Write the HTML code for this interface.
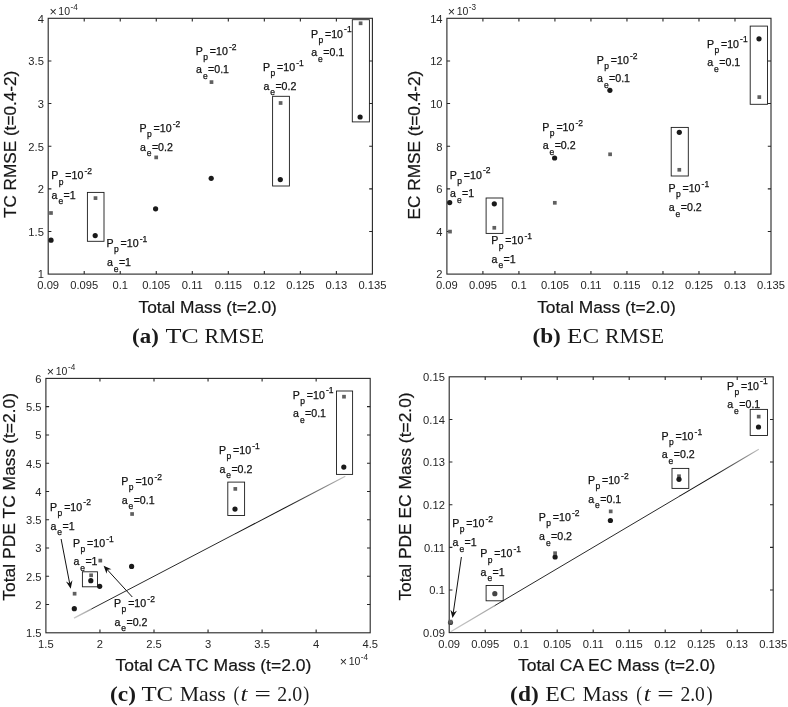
<!DOCTYPE html>
<html lang="en"><head><meta charset="utf-8"><title>Figure</title>
<style>html,body{margin:0;padding:0;background:#fff}body{width:788px;height:707px;overflow:hidden}svg{display:block}</style>
</head><body>
<svg width="788" height="707" viewBox="0 0 788 707" font-family='"Liberation Sans", sans-serif'>
<rect width="788" height="707" fill="#fff"/>
<rect x="48.2" y="18.3" width="324.2" height="255.8" fill="none" stroke="#262626" stroke-width="1.1"/>
<path d="M84.22 274.1v-3.2M84.22 18.3v3.2M120.24 274.1v-3.2M120.24 18.3v3.2M156.27 274.1v-3.2M156.27 18.3v3.2M192.29 274.1v-3.2M192.29 18.3v3.2M228.31 274.1v-3.2M228.31 18.3v3.2M264.33 274.1v-3.2M264.33 18.3v3.2M300.36 274.1v-3.2M300.36 18.3v3.2M336.38 274.1v-3.2M336.38 18.3v3.2M48.2 231.47h3.2M372.4 231.47h-3.2M48.2 188.83h3.2M372.4 188.83h-3.2M48.2 146.2h3.2M372.4 146.2h-3.2M48.2 103.57h3.2M372.4 103.57h-3.2M48.2 60.93h3.2M372.4 60.93h-3.2" stroke="#262626" stroke-width="1.1" fill="none"/>
<text x="48.2" y="289.3" font-size="11.2" text-anchor="middle" fill="#262626">0.09</text>
<text x="84.22" y="289.3" font-size="11.2" text-anchor="middle" fill="#262626">0.095</text>
<text x="120.24" y="289.3" font-size="11.2" text-anchor="middle" fill="#262626">0.1</text>
<text x="156.27" y="289.3" font-size="11.2" text-anchor="middle" fill="#262626">0.105</text>
<text x="192.29" y="289.3" font-size="11.2" text-anchor="middle" fill="#262626">0.11</text>
<text x="228.31" y="289.3" font-size="11.2" text-anchor="middle" fill="#262626">0.115</text>
<text x="264.33" y="289.3" font-size="11.2" text-anchor="middle" fill="#262626">0.12</text>
<text x="300.36" y="289.3" font-size="11.2" text-anchor="middle" fill="#262626">0.125</text>
<text x="336.38" y="289.3" font-size="11.2" text-anchor="middle" fill="#262626">0.13</text>
<text x="372.4" y="289.3" font-size="11.2" text-anchor="middle" fill="#262626">0.135</text>
<text x="43.9" y="278.4" font-size="11.2" text-anchor="end" fill="#262626">1</text>
<text x="43.9" y="235.77" font-size="11.2" text-anchor="end" fill="#262626">1.5</text>
<text x="43.9" y="193.13" font-size="11.2" text-anchor="end" fill="#262626">2</text>
<text x="43.9" y="150.5" font-size="11.2" text-anchor="end" fill="#262626">2.5</text>
<text x="43.9" y="107.87" font-size="11.2" text-anchor="end" fill="#262626">3</text>
<text x="43.9" y="65.23" font-size="11.2" text-anchor="end" fill="#262626">3.5</text>
<text x="43.9" y="22.6" font-size="11.2" text-anchor="end" fill="#262626">4</text>
<text x="50.4" y="14.4" font-size="10.5" fill="#262626"><tspan font-size="12.6" dx="-1" dy="1.1">×</tspan><tspan dx="1.6" dy="-0.8">10</tspan><tspan dx="0.5" dy="-5.0" font-size="8.2">-4</tspan></text>
<g font-size="16.8" fill="#161616" stroke="#161616" stroke-width="0.2">
<text x="138.5" y="313" textLength="138.4" lengthAdjust="spacingAndGlyphs">Total Mass (t=2.0)</text>
</g>
<g font-size="16.8" fill="#161616" stroke="#161616" stroke-width="0.2">
<g transform="translate(16.2 218) rotate(-90)"><text x="0" y="0" textLength="147.2" lengthAdjust="spacingAndGlyphs">TC RMSE (t=0.4-2)</text></g>
</g>
<g font-family='"Liberation Serif", serif' font-size="20.4" fill="#1a1a1a">
<text x="132.1" y="343.3" textLength="26.7" lengthAdjust="spacingAndGlyphs" font-weight="bold">(a)</text>
<text x="165.4" y="343.3" textLength="33.4" lengthAdjust="spacingAndGlyphs">TC</text>
<text x="204.4" y="343.3" textLength="59.7" lengthAdjust="spacingAndGlyphs">RMSE</text>
</g>
<rect x="49.15" y="211.15" width="3.7" height="3.7" fill="#606060"/>
<circle cx="51" cy="240.2" r="2.6" fill="#1a1a1a"/>
<rect x="87.4" y="192.4" width="16.6" height="48.9" fill="none" stroke="#1a1a1a" stroke-width="0.9"/>
<rect x="93.65" y="196.25" width="3.7" height="3.7" fill="#606060"/>
<circle cx="95.2" cy="235.6" r="2.6" fill="#1a1a1a"/>
<rect x="154.35" y="155.55" width="3.7" height="3.7" fill="#606060"/>
<circle cx="155.6" cy="208.8" r="2.6" fill="#1a1a1a"/>
<rect x="209.65" y="80.25" width="3.7" height="3.7" fill="#606060"/>
<circle cx="211.2" cy="178.3" r="2.6" fill="#1a1a1a"/>
<rect x="272.6" y="96.3" width="16.8" height="89.7" fill="none" stroke="#1a1a1a" stroke-width="0.9"/>
<rect x="278.75" y="101.15" width="3.7" height="3.7" fill="#606060"/>
<circle cx="280.3" cy="179.6" r="2.6" fill="#1a1a1a"/>
<rect x="352.3" y="19.7" width="17.1" height="102.2" fill="none" stroke="#1a1a1a" stroke-width="0.9"/>
<rect x="358.75" y="21.45" width="3.7" height="3.7" fill="#606060"/>
<circle cx="360.1" cy="117" r="2.6" fill="#1a1a1a"/>
<text font-size="10.6" fill="#111" stroke="#111" stroke-width="0.25"><tspan x="51.2" y="179.3">P</tspan><tspan x="58.7" y="184.5" font-size="8.5">p</tspan><tspan x="65.3" y="179.3">=10</tspan><tspan x="84.4" y="174" font-size="8.5">-2</tspan><tspan x="51.6" y="198.5">a</tspan><tspan x="58.4" y="204" font-size="8.5">e</tspan><tspan x="63.6" y="198.5">=1</tspan></text>
<text font-size="10.6" fill="#111" stroke="#111" stroke-width="0.25"><tspan x="106.5" y="246.9">P</tspan><tspan x="114" y="252.1" font-size="8.5">p</tspan><tspan x="120.6" y="246.9">=10</tspan><tspan x="139.7" y="241.6" font-size="8.5">-1</tspan><tspan x="106.9" y="266">a</tspan><tspan x="113.7" y="271.5" font-size="8.5">e</tspan><tspan x="118.9" y="266">=1</tspan></text>
<text font-size="10.6" fill="#111" stroke="#111" stroke-width="0.25"><tspan x="139.5" y="132.2">P</tspan><tspan x="147" y="137.4" font-size="8.5">p</tspan><tspan x="153.6" y="132.2">=10</tspan><tspan x="172.7" y="126.9" font-size="8.5">-2</tspan><tspan x="139.9" y="150.9">a</tspan><tspan x="146.7" y="156.4" font-size="8.5">e</tspan><tspan x="151.9" y="150.9">=0.2</tspan></text>
<text font-size="10.6" fill="#111" stroke="#111" stroke-width="0.25"><tspan x="195.7" y="54.9">P</tspan><tspan x="203.2" y="60.1" font-size="8.5">p</tspan><tspan x="209.8" y="54.9">=10</tspan><tspan x="228.9" y="49.6" font-size="8.5">-2</tspan><tspan x="196.1" y="73.3">a</tspan><tspan x="202.9" y="78.8" font-size="8.5">e</tspan><tspan x="208.1" y="73.3">=0.1</tspan></text>
<text font-size="10.6" fill="#111" stroke="#111" stroke-width="0.25"><tspan x="263" y="71.2">P</tspan><tspan x="270.5" y="76.4" font-size="8.5">p</tspan><tspan x="277.1" y="71.2">=10</tspan><tspan x="296.2" y="65.9" font-size="8.5">-1</tspan><tspan x="263.4" y="89.8">a</tspan><tspan x="270.2" y="95.3" font-size="8.5">e</tspan><tspan x="275.4" y="89.8">=0.2</tspan></text>
<text font-size="10.6" fill="#111" stroke="#111" stroke-width="0.25"><tspan x="310.9" y="37.5">P</tspan><tspan x="318.4" y="42.7" font-size="8.5">p</tspan><tspan x="325" y="37.5">=10</tspan><tspan x="344.1" y="32.2" font-size="8.5">-1</tspan><tspan x="311.3" y="56.2">a</tspan><tspan x="318.1" y="61.7" font-size="8.5">e</tspan><tspan x="323.3" y="56.2">=0.1</tspan></text>
<rect x="446.9" y="18.3" width="324.1" height="255.8" fill="none" stroke="#262626" stroke-width="1.1"/>
<path d="M482.91 274.1v-3.2M482.91 18.3v3.2M518.92 274.1v-3.2M518.92 18.3v3.2M554.93 274.1v-3.2M554.93 18.3v3.2M590.94 274.1v-3.2M590.94 18.3v3.2M626.96 274.1v-3.2M626.96 18.3v3.2M662.97 274.1v-3.2M662.97 18.3v3.2M698.98 274.1v-3.2M698.98 18.3v3.2M734.99 274.1v-3.2M734.99 18.3v3.2M446.9 231.47h3.2M771 231.47h-3.2M446.9 188.83h3.2M771 188.83h-3.2M446.9 146.2h3.2M771 146.2h-3.2M446.9 103.57h3.2M771 103.57h-3.2M446.9 60.93h3.2M771 60.93h-3.2" stroke="#262626" stroke-width="1.1" fill="none"/>
<text x="446.9" y="289.3" font-size="11.2" text-anchor="middle" fill="#262626">0.09</text>
<text x="482.91" y="289.3" font-size="11.2" text-anchor="middle" fill="#262626">0.095</text>
<text x="518.92" y="289.3" font-size="11.2" text-anchor="middle" fill="#262626">0.1</text>
<text x="554.93" y="289.3" font-size="11.2" text-anchor="middle" fill="#262626">0.105</text>
<text x="590.94" y="289.3" font-size="11.2" text-anchor="middle" fill="#262626">0.11</text>
<text x="626.96" y="289.3" font-size="11.2" text-anchor="middle" fill="#262626">0.115</text>
<text x="662.97" y="289.3" font-size="11.2" text-anchor="middle" fill="#262626">0.12</text>
<text x="698.98" y="289.3" font-size="11.2" text-anchor="middle" fill="#262626">0.125</text>
<text x="734.99" y="289.3" font-size="11.2" text-anchor="middle" fill="#262626">0.13</text>
<text x="771" y="289.3" font-size="11.2" text-anchor="middle" fill="#262626">0.135</text>
<text x="442.6" y="278.4" font-size="11.2" text-anchor="end" fill="#262626">2</text>
<text x="442.6" y="235.77" font-size="11.2" text-anchor="end" fill="#262626">4</text>
<text x="442.6" y="193.13" font-size="11.2" text-anchor="end" fill="#262626">6</text>
<text x="442.6" y="150.5" font-size="11.2" text-anchor="end" fill="#262626">8</text>
<text x="442.6" y="107.87" font-size="11.2" text-anchor="end" fill="#262626">10</text>
<text x="442.6" y="65.23" font-size="11.2" text-anchor="end" fill="#262626">12</text>
<text x="442.6" y="22.6" font-size="11.2" text-anchor="end" fill="#262626">14</text>
<text x="448.7" y="14.4" font-size="10.5" fill="#262626"><tspan font-size="12.6" dx="-1" dy="1.1">×</tspan><tspan dx="1.6" dy="-0.8">10</tspan><tspan dx="0.5" dy="-5.0" font-size="8.2">-3</tspan></text>
<g font-size="16.8" fill="#161616" stroke="#161616" stroke-width="0.2">
<text x="537.2" y="313" textLength="138.5" lengthAdjust="spacingAndGlyphs">Total Mass (t=2.0)</text>
</g>
<g font-size="16.8" fill="#161616" stroke="#161616" stroke-width="0.2">
<g transform="translate(420.1 219.4) rotate(-90)"><text x="0" y="0" textLength="148.6" lengthAdjust="spacingAndGlyphs">EC RMSE (t=0.4-2)</text></g>
</g>
<g font-family='"Liberation Serif", serif' font-size="20.4" fill="#1a1a1a">
<text x="532.4" y="343.3" textLength="28.5" lengthAdjust="spacingAndGlyphs" font-weight="bold">(b)</text>
<text x="567.1" y="343.3" textLength="32" lengthAdjust="spacingAndGlyphs">EC</text>
<text x="605" y="343.3" textLength="59.1" lengthAdjust="spacingAndGlyphs">RMSE</text>
</g>
<circle cx="449.7" cy="202.6" r="2.6" fill="#1a1a1a"/>
<rect x="448.15" y="229.75" width="3.7" height="3.7" fill="#606060"/>
<rect x="486.1" y="198" width="16.8" height="35.4" fill="none" stroke="#1a1a1a" stroke-width="0.9"/>
<circle cx="494.3" cy="203.8" r="2.6" fill="#1a1a1a"/>
<rect x="492.45" y="225.95" width="3.7" height="3.7" fill="#606060"/>
<circle cx="554.6" cy="158" r="2.6" fill="#1a1a1a"/>
<rect x="552.95" y="200.95" width="3.7" height="3.7" fill="#606060"/>
<circle cx="609.9" cy="90.3" r="2.6" fill="#1a1a1a"/>
<rect x="608.25" y="152.45" width="3.7" height="3.7" fill="#606060"/>
<rect x="671.2" y="127.4" width="17.1" height="48.6" fill="none" stroke="#1a1a1a" stroke-width="0.9"/>
<circle cx="679.3" cy="132.3" r="2.6" fill="#1a1a1a"/>
<rect x="677.45" y="167.95" width="3.7" height="3.7" fill="#606060"/>
<rect x="750.2" y="26.1" width="17.3" height="78.2" fill="none" stroke="#1a1a1a" stroke-width="0.9"/>
<circle cx="759" cy="38.8" r="2.6" fill="#1a1a1a"/>
<rect x="757.45" y="95.25" width="3.7" height="3.7" fill="#606060"/>
<text font-size="10.6" fill="#111" stroke="#111" stroke-width="0.25"><tspan x="449.7" y="178.6">P</tspan><tspan x="457.2" y="183.8" font-size="8.5">p</tspan><tspan x="463.8" y="178.6">=10</tspan><tspan x="482.9" y="173.3" font-size="8.5">-2</tspan><tspan x="450.1" y="197.2">a</tspan><tspan x="456.9" y="202.7" font-size="8.5">e</tspan><tspan x="462.1" y="197.2">=1</tspan></text>
<text font-size="10.6" fill="#111" stroke="#111" stroke-width="0.25"><tspan x="491.2" y="243.8">P</tspan><tspan x="498.7" y="249" font-size="8.5">p</tspan><tspan x="505.3" y="243.8">=10</tspan><tspan x="524.4" y="238.5" font-size="8.5">-1</tspan><tspan x="491.6" y="262.6">a</tspan><tspan x="498.4" y="268.1" font-size="8.5">e</tspan><tspan x="503.6" y="262.6">=1</tspan></text>
<text font-size="10.6" fill="#111" stroke="#111" stroke-width="0.25"><tspan x="542.3" y="130.8">P</tspan><tspan x="549.8" y="136" font-size="8.5">p</tspan><tspan x="556.4" y="130.8">=10</tspan><tspan x="575.5" y="125.5" font-size="8.5">-2</tspan><tspan x="542.7" y="149.4">a</tspan><tspan x="549.5" y="154.9" font-size="8.5">e</tspan><tspan x="554.7" y="149.4">=0.2</tspan></text>
<text font-size="10.6" fill="#111" stroke="#111" stroke-width="0.25"><tspan x="596.7" y="63.9">P</tspan><tspan x="604.2" y="69.1" font-size="8.5">p</tspan><tspan x="610.8" y="63.9">=10</tspan><tspan x="629.9" y="58.6" font-size="8.5">-2</tspan><tspan x="597.1" y="82">a</tspan><tspan x="603.9" y="87.5" font-size="8.5">e</tspan><tspan x="609.1" y="82">=0.1</tspan></text>
<text font-size="10.6" fill="#111" stroke="#111" stroke-width="0.25"><tspan x="668.4" y="192">P</tspan><tspan x="675.9" y="197.2" font-size="8.5">p</tspan><tspan x="682.5" y="192">=10</tspan><tspan x="701.6" y="186.7" font-size="8.5">-1</tspan><tspan x="668.8" y="211.1">a</tspan><tspan x="675.6" y="216.6" font-size="8.5">e</tspan><tspan x="680.8" y="211.1">=0.2</tspan></text>
<text font-size="10.6" fill="#111" stroke="#111" stroke-width="0.25"><tspan x="706.9" y="47.6">P</tspan><tspan x="714.4" y="52.8" font-size="8.5">p</tspan><tspan x="721" y="47.6">=10</tspan><tspan x="740.1" y="42.3" font-size="8.5">-1</tspan><tspan x="707.3" y="66">a</tspan><tspan x="714.1" y="71.5" font-size="8.5">e</tspan><tspan x="719.3" y="66">=0.1</tspan></text>
<rect x="45.9" y="378.4" width="324.3" height="254.4" fill="none" stroke="#262626" stroke-width="1.1"/>
<path d="M99.95 632.8v-3.2M99.95 378.4v3.2M154 632.8v-3.2M154 378.4v3.2M208.05 632.8v-3.2M208.05 378.4v3.2M262.1 632.8v-3.2M262.1 378.4v3.2M316.15 632.8v-3.2M316.15 378.4v3.2M45.9 604.53h3.2M370.2 604.53h-3.2M45.9 576.27h3.2M370.2 576.27h-3.2M45.9 548h3.2M370.2 548h-3.2M45.9 519.73h3.2M370.2 519.73h-3.2M45.9 491.47h3.2M370.2 491.47h-3.2M45.9 463.2h3.2M370.2 463.2h-3.2M45.9 434.93h3.2M370.2 434.93h-3.2M45.9 406.67h3.2M370.2 406.67h-3.2" stroke="#262626" stroke-width="1.1" fill="none"/>
<text x="45.9" y="648" font-size="11.2" text-anchor="middle" fill="#262626">1.5</text>
<text x="99.95" y="648" font-size="11.2" text-anchor="middle" fill="#262626">2</text>
<text x="154" y="648" font-size="11.2" text-anchor="middle" fill="#262626">2.5</text>
<text x="208.05" y="648" font-size="11.2" text-anchor="middle" fill="#262626">3</text>
<text x="262.1" y="648" font-size="11.2" text-anchor="middle" fill="#262626">3.5</text>
<text x="316.15" y="648" font-size="11.2" text-anchor="middle" fill="#262626">4</text>
<text x="370.2" y="648" font-size="11.2" text-anchor="middle" fill="#262626">4.5</text>
<text x="41.6" y="637.1" font-size="11.2" text-anchor="end" fill="#262626">1.5</text>
<text x="41.6" y="608.83" font-size="11.2" text-anchor="end" fill="#262626">2</text>
<text x="41.6" y="580.57" font-size="11.2" text-anchor="end" fill="#262626">2.5</text>
<text x="41.6" y="552.3" font-size="11.2" text-anchor="end" fill="#262626">3</text>
<text x="41.6" y="524.03" font-size="11.2" text-anchor="end" fill="#262626">3.5</text>
<text x="41.6" y="495.77" font-size="11.2" text-anchor="end" fill="#262626">4</text>
<text x="41.6" y="467.5" font-size="11.2" text-anchor="end" fill="#262626">4.5</text>
<text x="41.6" y="439.23" font-size="11.2" text-anchor="end" fill="#262626">5</text>
<text x="41.6" y="410.97" font-size="11.2" text-anchor="end" fill="#262626">5.5</text>
<text x="41.6" y="382.7" font-size="11.2" text-anchor="end" fill="#262626">6</text>
<text x="47.8" y="374.9" font-size="10.5" fill="#262626"><tspan font-size="12.6" dx="-1" dy="1.1">×</tspan><tspan dx="1.6" dy="-0.8">10</tspan><tspan dx="0.5" dy="-5.0" font-size="8.2">-4</tspan></text>
<text x="340.7" y="665" font-size="10.5" fill="#262626"><tspan font-size="12.6" dx="-1" dy="1.1">×</tspan><tspan dx="1.6" dy="-0.8">10</tspan><tspan dx="0.5" dy="-5.0" font-size="8.2">-4</tspan></text>
<g font-size="16.8" fill="#161616" stroke="#161616" stroke-width="0.2">
<text x="115.6" y="671.3" textLength="195.8" lengthAdjust="spacingAndGlyphs">Total CA TC Mass (t=2.0)</text>
</g>
<g font-size="16.8" fill="#161616" stroke="#161616" stroke-width="0.2">
<g transform="translate(14.9 600.7) rotate(-90)"><text x="0" y="0" textLength="207.8" lengthAdjust="spacingAndGlyphs">Total PDE TC Mass (t=2.0)</text></g>
</g>
<g font-family='"Liberation Serif", serif' font-size="20.4" fill="#1a1a1a">
<text x="110.1" y="700.7" textLength="25.9" lengthAdjust="spacingAndGlyphs" font-weight="bold">(c)</text>
<text x="141.4" y="700.7" textLength="31.7" lengthAdjust="spacingAndGlyphs">TC</text>
<text x="179.7" y="700.7" textLength="46" lengthAdjust="spacingAndGlyphs">Mass</text>
<text x="233.5" y="700.7" textLength="5.8" lengthAdjust="spacingAndGlyphs">(</text>
<text x="240.5" y="700.7" textLength="7.1" lengthAdjust="spacingAndGlyphs" font-style="italic">t</text>
<text x="254.4" y="700.7" textLength="16.4" lengthAdjust="spacingAndGlyphs">=</text>
<text x="277.3" y="700.7" textLength="24.8" lengthAdjust="spacingAndGlyphs">2.0</text>
<text x="303.3" y="700.7" textLength="6" lengthAdjust="spacingAndGlyphs">)</text>
</g>
<defs><linearGradient id="gc1" gradientUnits="userSpaceOnUse" x1="74.01" y1="618.1" x2="91.3" y2="609.06"><stop offset="0" stop-color="#cacaca"/><stop offset="1" stop-color="#a2a2a2"/></linearGradient><linearGradient id="gc2" gradientUnits="userSpaceOnUse" x1="235.07" y1="533.87" x2="345.34" y2="476.2"><stop offset="0" stop-color="#111"/><stop offset="0.45" stop-color="#111"/><stop offset="1" stop-color="#c2c2c2"/></linearGradient></defs>
<path d="M74.01 618.1L91.3 609.06" stroke="url(#gc1)" stroke-width="1.4" fill="none"/>
<path d="M91.3 609.06L235.38 533.67" stroke="#111" stroke-width="0.9" fill="none"/>
<path d="M235.07 533.87L345.34 476.2" stroke="url(#gc2)" stroke-width="1.05" fill="none"/>
<circle cx="74.3" cy="608.7" r="2.6" fill="#1a1a1a"/>
<rect x="72.75" y="591.85" width="3.7" height="3.7" fill="#606060"/>
<rect x="82.4" y="571.8" width="15.1" height="15" fill="none" stroke="#1a1a1a" stroke-width="0.9"/>
<rect x="89.25" y="573.45" width="3.7" height="3.7" fill="#606060"/>
<circle cx="90.8" cy="580.7" r="2.6" fill="#1a1a1a"/>
<circle cx="99.7" cy="586.3" r="2.6" fill="#1a1a1a"/>
<rect x="98.45" y="558.75" width="3.7" height="3.7" fill="#606060"/>
<circle cx="131.6" cy="566.4" r="2.6" fill="#1a1a1a"/>
<rect x="130.25" y="512.15" width="3.7" height="3.7" fill="#606060"/>
<rect x="227.8" y="482.1" width="16.8" height="33.4" fill="none" stroke="#1a1a1a" stroke-width="0.9"/>
<rect x="233.45" y="487.05" width="3.7" height="3.7" fill="#606060"/>
<circle cx="235" cy="509.1" r="2.6" fill="#1a1a1a"/>
<rect x="336.5" y="391" width="16.1" height="83.4" fill="none" stroke="#1a1a1a" stroke-width="0.9"/>
<rect x="342.15" y="394.85" width="3.7" height="3.7" fill="#606060"/>
<circle cx="343.8" cy="467.1" r="2.6" fill="#1a1a1a"/>
<text font-size="10.6" fill="#111" stroke="#111" stroke-width="0.25"><tspan x="50.1" y="510.5">P</tspan><tspan x="57.6" y="515.7" font-size="8.5">p</tspan><tspan x="64.2" y="510.5">=10</tspan><tspan x="83.3" y="505.2" font-size="8.5">-2</tspan><tspan x="50.5" y="529.5">a</tspan><tspan x="57.3" y="535" font-size="8.5">e</tspan><tspan x="62.5" y="529.5">=1</tspan></text>
<text font-size="10.6" fill="#111" stroke="#111" stroke-width="0.25"><tspan x="73" y="546.8">P</tspan><tspan x="80.5" y="552" font-size="8.5">p</tspan><tspan x="87.1" y="546.8">=10</tspan><tspan x="106.2" y="541.5" font-size="8.5">-1</tspan><tspan x="73.4" y="565.2">a</tspan><tspan x="80.2" y="570.7" font-size="8.5">e</tspan><tspan x="85.4" y="565.2">=1</tspan></text>
<text font-size="10.6" fill="#111" stroke="#111" stroke-width="0.25"><tspan x="114.1" y="606.9">P</tspan><tspan x="121.6" y="612.1" font-size="8.5">p</tspan><tspan x="128.2" y="606.9">=10</tspan><tspan x="147.3" y="601.6" font-size="8.5">-2</tspan><tspan x="114.5" y="625.7">a</tspan><tspan x="121.3" y="631.2" font-size="8.5">e</tspan><tspan x="126.5" y="625.7">=0.2</tspan></text>
<text font-size="10.6" fill="#111" stroke="#111" stroke-width="0.25"><tspan x="121.3" y="485">P</tspan><tspan x="128.8" y="490.2" font-size="8.5">p</tspan><tspan x="135.4" y="485">=10</tspan><tspan x="154.5" y="479.7" font-size="8.5">-2</tspan><tspan x="121.7" y="503.9">a</tspan><tspan x="128.5" y="509.4" font-size="8.5">e</tspan><tspan x="133.7" y="503.9">=0.1</tspan></text>
<text font-size="10.6" fill="#111" stroke="#111" stroke-width="0.25"><tspan x="219" y="454.2">P</tspan><tspan x="226.5" y="459.4" font-size="8.5">p</tspan><tspan x="233.1" y="454.2">=10</tspan><tspan x="252.2" y="448.9" font-size="8.5">-1</tspan><tspan x="219.4" y="472.8">a</tspan><tspan x="226.2" y="478.3" font-size="8.5">e</tspan><tspan x="231.4" y="472.8">=0.2</tspan></text>
<text font-size="10.6" fill="#111" stroke="#111" stroke-width="0.25"><tspan x="292.7" y="398.5">P</tspan><tspan x="300.2" y="403.7" font-size="8.5">p</tspan><tspan x="306.8" y="398.5">=10</tspan><tspan x="325.9" y="393.2" font-size="8.5">-1</tspan><tspan x="293.1" y="417.4">a</tspan><tspan x="299.9" y="422.9" font-size="8.5">e</tspan><tspan x="305.1" y="417.4">=0.1</tspan></text>
<path d="M61.1 539L69.75 583.89" stroke="#111" stroke-width="1" fill="none"/>
<path d="M70.7 588.8L65.95 581.57L69.67 583.46L72.43 580.32Z" fill="#111"/>
<path d="M132.3 597L106.98 569.39" stroke="#111" stroke-width="1" fill="none"/>
<path d="M103.6 565.7L111.44 569.37L107.28 569.71L106.57 573.83Z" fill="#111"/>
<rect x="449.2" y="376.8" width="324" height="255.8" fill="none" stroke="#262626" stroke-width="1.1"/>
<path d="M485.2 632.6v-3.2M485.2 376.8v3.2M521.2 632.6v-3.2M521.2 376.8v3.2M557.2 632.6v-3.2M557.2 376.8v3.2M593.2 632.6v-3.2M593.2 376.8v3.2M629.2 632.6v-3.2M629.2 376.8v3.2M665.2 632.6v-3.2M665.2 376.8v3.2M701.2 632.6v-3.2M701.2 376.8v3.2M737.2 632.6v-3.2M737.2 376.8v3.2M449.2 589.97h3.2M773.2 589.97h-3.2M449.2 547.33h3.2M773.2 547.33h-3.2M449.2 504.7h3.2M773.2 504.7h-3.2M449.2 462.07h3.2M773.2 462.07h-3.2M449.2 419.43h3.2M773.2 419.43h-3.2" stroke="#262626" stroke-width="1.1" fill="none"/>
<text x="449.2" y="647.8" font-size="11.2" text-anchor="middle" fill="#262626">0.09</text>
<text x="485.2" y="647.8" font-size="11.2" text-anchor="middle" fill="#262626">0.095</text>
<text x="521.2" y="647.8" font-size="11.2" text-anchor="middle" fill="#262626">0.1</text>
<text x="557.2" y="647.8" font-size="11.2" text-anchor="middle" fill="#262626">0.105</text>
<text x="593.2" y="647.8" font-size="11.2" text-anchor="middle" fill="#262626">0.11</text>
<text x="629.2" y="647.8" font-size="11.2" text-anchor="middle" fill="#262626">0.115</text>
<text x="665.2" y="647.8" font-size="11.2" text-anchor="middle" fill="#262626">0.12</text>
<text x="701.2" y="647.8" font-size="11.2" text-anchor="middle" fill="#262626">0.125</text>
<text x="737.2" y="647.8" font-size="11.2" text-anchor="middle" fill="#262626">0.13</text>
<text x="773.2" y="647.8" font-size="11.2" text-anchor="middle" fill="#262626">0.135</text>
<text x="444.9" y="636.9" font-size="11.2" text-anchor="end" fill="#262626">0.09</text>
<text x="444.9" y="594.27" font-size="11.2" text-anchor="end" fill="#262626">0.1</text>
<text x="444.9" y="551.63" font-size="11.2" text-anchor="end" fill="#262626">0.11</text>
<text x="444.9" y="509" font-size="11.2" text-anchor="end" fill="#262626">0.12</text>
<text x="444.9" y="466.37" font-size="11.2" text-anchor="end" fill="#262626">0.13</text>
<text x="444.9" y="423.73" font-size="11.2" text-anchor="end" fill="#262626">0.14</text>
<text x="444.9" y="381.1" font-size="11.2" text-anchor="end" fill="#262626">0.15</text>
<g font-size="16.8" fill="#161616" stroke="#161616" stroke-width="0.2">
<text x="517.9" y="671.3" textLength="197.4" lengthAdjust="spacingAndGlyphs">Total CA EC Mass (t=2.0)</text>
</g>
<g font-size="16.8" fill="#161616" stroke="#161616" stroke-width="0.2">
<g transform="translate(410.8 600.6) rotate(-90)"><text x="0" y="0" textLength="208.2" lengthAdjust="spacingAndGlyphs">Total PDE EC Mass (t=2.0)</text></g>
</g>
<g font-family='"Liberation Serif", serif' font-size="20.4" fill="#1a1a1a">
<text x="510.1" y="700.7" textLength="28.6" lengthAdjust="spacingAndGlyphs" font-weight="bold">(d)</text>
<text x="545.3" y="700.7" textLength="30.4" lengthAdjust="spacingAndGlyphs">EC</text>
<text x="582.5" y="700.7" textLength="45.8" lengthAdjust="spacingAndGlyphs">Mass</text>
<text x="636.3" y="700.7" textLength="5.7" lengthAdjust="spacingAndGlyphs">(</text>
<text x="643.8" y="700.7" textLength="6.9" lengthAdjust="spacingAndGlyphs" font-style="italic">t</text>
<text x="657.2" y="700.7" textLength="16.4" lengthAdjust="spacingAndGlyphs">=</text>
<text x="680.4" y="700.7" textLength="24.5" lengthAdjust="spacingAndGlyphs">2.0</text>
<text x="706.6" y="700.7" textLength="6.1" lengthAdjust="spacingAndGlyphs">)</text>
</g>
<defs><linearGradient id="gd1" gradientUnits="userSpaceOnUse" x1="450.64" y1="631.75" x2="494.56" y2="605.74"><stop offset="0" stop-color="#cacaca"/><stop offset="1" stop-color="#a2a2a2"/></linearGradient><linearGradient id="gd2" gradientUnits="userSpaceOnUse" x1="679.6" y1="496.17" x2="758.8" y2="449.28"><stop offset="0" stop-color="#111"/><stop offset="0.45" stop-color="#111"/><stop offset="1" stop-color="#c2c2c2"/></linearGradient></defs>
<path d="M450.64 631.75L494.56 605.74" stroke="url(#gd1)" stroke-width="1.4" fill="none"/>
<path d="M494.56 605.74L679.9 495.97" stroke="#111" stroke-width="0.9" fill="none"/>
<path d="M679.6 496.17L758.8 449.28" stroke="url(#gd2)" stroke-width="1.05" fill="none"/>
<circle cx="450.5" cy="622.5" r="2.6" fill="#444"/>
<rect x="448.65" y="619.75" width="3.7" height="3.7" fill="#606060"/>
<rect x="486.1" y="585.5" width="17.1" height="15.3" fill="none" stroke="#1a1a1a" stroke-width="0.9"/>
<circle cx="494.8" cy="593.7" r="2.6" fill="#444"/>
<circle cx="555.1" cy="557" r="2.6" fill="#1a1a1a"/>
<rect x="553.25" y="551.35" width="3.7" height="3.7" fill="#606060"/>
<circle cx="610.4" cy="520.5" r="2.6" fill="#1a1a1a"/>
<rect x="608.85" y="509.55" width="3.7" height="3.7" fill="#606060"/>
<rect x="672" y="468.4" width="16.8" height="20" fill="none" stroke="#1a1a1a" stroke-width="0.9"/>
<rect x="677.15" y="474.35" width="3.7" height="3.7" fill="#606060"/>
<circle cx="679" cy="479.3" r="2.6" fill="#1a1a1a"/>
<rect x="750.2" y="409.4" width="17.3" height="26.1" fill="none" stroke="#1a1a1a" stroke-width="0.9"/>
<rect x="756.85" y="414.75" width="3.7" height="3.7" fill="#606060"/>
<circle cx="758.5" cy="427" r="2.6" fill="#1a1a1a"/>
<text font-size="10.6" fill="#111" stroke="#111" stroke-width="0.25"><tspan x="452.2" y="526.8">P</tspan><tspan x="459.7" y="532" font-size="8.5">p</tspan><tspan x="466.3" y="526.8">=10</tspan><tspan x="485.4" y="521.5" font-size="8.5">-2</tspan><tspan x="452.6" y="546.3">a</tspan><tspan x="459.4" y="551.8" font-size="8.5">e</tspan><tspan x="464.6" y="546.3">=1</tspan></text>
<text font-size="10.6" fill="#111" stroke="#111" stroke-width="0.25"><tspan x="480.2" y="557.3">P</tspan><tspan x="487.7" y="562.5" font-size="8.5">p</tspan><tspan x="494.3" y="557.3">=10</tspan><tspan x="513.4" y="552" font-size="8.5">-1</tspan><tspan x="480.6" y="575.8">a</tspan><tspan x="487.4" y="581.3" font-size="8.5">e</tspan><tspan x="492.6" y="575.8">=1</tspan></text>
<text font-size="10.6" fill="#111" stroke="#111" stroke-width="0.25"><tspan x="538.7" y="521.2">P</tspan><tspan x="546.2" y="526.4" font-size="8.5">p</tspan><tspan x="552.8" y="521.2">=10</tspan><tspan x="571.9" y="515.9" font-size="8.5">-2</tspan><tspan x="539.1" y="540.2">a</tspan><tspan x="545.9" y="545.7" font-size="8.5">e</tspan><tspan x="551.1" y="540.2">=0.2</tspan></text>
<text font-size="10.6" fill="#111" stroke="#111" stroke-width="0.25"><tspan x="587.9" y="483.9">P</tspan><tspan x="595.4" y="489.1" font-size="8.5">p</tspan><tspan x="602" y="483.9">=10</tspan><tspan x="621.1" y="478.6" font-size="8.5">-2</tspan><tspan x="588.3" y="502.6">a</tspan><tspan x="595.1" y="508.1" font-size="8.5">e</tspan><tspan x="600.3" y="502.6">=0.1</tspan></text>
<text font-size="10.6" fill="#111" stroke="#111" stroke-width="0.25"><tspan x="661.4" y="439.9">P</tspan><tspan x="668.9" y="445.1" font-size="8.5">p</tspan><tspan x="675.5" y="439.9">=10</tspan><tspan x="694.6" y="434.6" font-size="8.5">-1</tspan><tspan x="661.8" y="458.3">a</tspan><tspan x="668.6" y="463.8" font-size="8.5">e</tspan><tspan x="673.8" y="458.3">=0.2</tspan></text>
<text font-size="10.6" fill="#111" stroke="#111" stroke-width="0.25"><tspan x="726.9" y="389.7">P</tspan><tspan x="734.4" y="394.9" font-size="8.5">p</tspan><tspan x="741" y="389.7">=10</tspan><tspan x="760.1" y="384.4" font-size="8.5">-1</tspan><tspan x="727.3" y="408.3">a</tspan><tspan x="734.1" y="413.8" font-size="8.5">e</tspan><tspan x="739.3" y="408.3">=0.1</tspan></text>
<path d="M461.4 557L453.22 613.15" stroke="#111" stroke-width="1" fill="none"/>
<path d="M452.5 618.1L450.39 609.71L453.28 612.72L456.92 610.66Z" fill="#111"/>
</svg></body></html>
